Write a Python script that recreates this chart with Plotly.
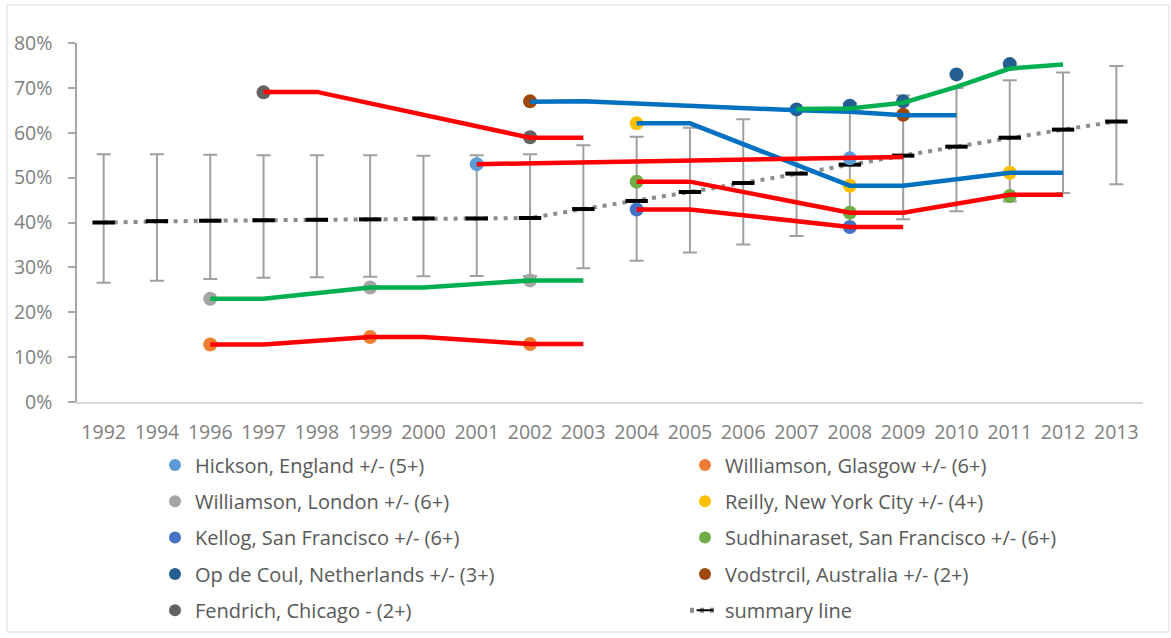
import plotly.graph_objects as go

# ---------------- data ----------------
years = ["1992", "1994", "1996", "1997", "1998", "1999", "2000", "2001", "2002", "2003",
         "2004", "2005", "2006", "2007", "2008", "2009", "2010", "2011", "2012", "2013"]

summary_mean = [40.0, 40.3, 40.4, 40.5, 40.6, 40.7, 40.9, 40.9, 41.0, 43.0,
                44.8, 46.8, 48.8, 50.9, 52.9, 54.9, 56.9, 58.9, 60.7, 62.5]
summary_upper = [55.2, 55.2, 55.1, 55.0, 55.0, 55.0, 54.9, 55.0, 55.2, 57.2,
                 59.1, 61.1, 63.0, 64.9, 66.6, 68.3, 70.0, 71.7, 73.4, 74.9]
summary_lower = [26.6, 27.0, 27.4, 27.7, 27.8, 27.9, 28.0, 28.1, 28.1, 29.8,
                 31.5, 33.3, 35.1, 37.0, 38.9, 40.7, 42.5, 44.7, 46.6, 48.5]

# study point estimates (markers)
hickson_x, hickson_y = ["2001", "2008"], [53.0, 54.3]
glasgow_x, glasgow_y = ["1996", "1999", "2002"], [12.8, 14.5, 12.9]
london_x, london_y = ["1996", "1999", "2002"], [23.0, 25.5, 27.1]
reilly_x, reilly_y = ["2004", "2008", "2011"], [62.1, 48.2, 51.1]
kellog_x, kellog_y = ["2004", "2008"], [42.9, 39.0]
sudhi_x, sudhi_y = ["2004", "2008", "2011"], [49.1, 42.2, 45.9]
opdecoul_x, opdecoul_y = ["2007", "2008", "2009", "2010", "2011"], [65.2, 66.0, 67.0, 73.0, 75.3]
vodstrcil_x, vodstrcil_y = ["2002", "2009"], [67.0, 64.0]
fendrich_x, fendrich_y = ["1997", "2002"], [69.0, 59.0]

# projected trend lines for each study
fendrich_line_x, fendrich_line_y = ["1997", "1998", "2002", "2003"], [69.1, 69.1, 58.9, 58.9]
vodstrcil_line_x, vodstrcil_line_y = ["2002", "2003", "2007", "2008", "2009", "2010"], [66.9, 67.0, 65.0, 64.7, 63.9, 63.9]
opdecoul_line_x, opdecoul_line_y = ["2007", "2008", "2009", "2010", "2011", "2012"], [65.3, 65.4, 66.7, 70.2, 74.3, 75.2]
reilly_line_x, reilly_line_y = ["2004", "2005", "2008", "2009", "2011", "2012"], [62.1, 62.1, 48.2, 48.2, 51.1, 51.1]
hickson_line_x, hickson_line_y = ["2001", "2009"], [53.0, 54.6]
sudhi_line_x, sudhi_line_y = ["2004", "2005", "2008", "2009", "2011", "2012"], [49.1, 49.1, 42.2, 42.2, 46.2, 46.2]
kellog_line_x, kellog_line_y = ["2004", "2005", "2008", "2009"], [42.9, 42.9, 39.0, 39.0]
london_line_x, london_line_y = ["1996", "1997", "1999", "2000", "2002", "2003"], [23.0, 23.0, 25.5, 25.5, 27.1, 27.1]
glasgow_line_x, glasgow_line_y = ["1996", "1997", "1999", "2000", "2002", "2003"], [12.8, 12.8, 14.5, 14.5, 12.9, 12.9]

# ---------------- styling ----------------
FONT = "Open Sans"
W, H = 1171, 638
L, R, T, B = 77, 28, 43, 236
PW, PH = W - L - R, H - T - B
RED, BLUE, GREEN = "#FF0000", "#0070C0", "#00B050"

def px_x(p):
    return (p - L) / PW

def px_y(p):
    return (H - B - p) / PH

def cx(p):
    return p / W

def cy(p):
    return 1 - p / H

fig = go.Figure()

# summary line with CI
err_plus = [u - m for u, m in zip(summary_upper, summary_mean)]
err_minus = [m - l for m, l in zip(summary_mean, summary_lower)]
fig.add_trace(go.Scatter(
    x=years, y=summary_mean, name="summary line", mode="lines+markers",
    line=dict(color="#8C8C8C", width=4, dash="4px,6px"),
    marker=dict(symbol="line-ew", size=16, color="black", line=dict(color="black", width=4)),
    error_y=dict(type="data", array=err_plus, arrayminus=err_minus, symmetric=False,
                 color="#A0A0A0", thickness=2, width=7),
    legend="legend2", legendgroup="g10", legendrank=10,
))

studies = [
    ("Hickson, England +/- (5+)", hickson_x, hickson_y, "#5B9BD5", "legend", 1),
    ("Williamson, Glasgow +/- (6+)", glasgow_x, glasgow_y, "#ED7D31", "legend2", 2),
    ("Williamson, London +/- (6+)", london_x, london_y, "#A5A5A5", "legend", 3),
    ("Reilly, New York City +/- (4+)", reilly_x, reilly_y, "#FFC000", "legend2", 4),
    ("Kellog, San Francisco +/- (6+)", kellog_x, kellog_y, "#4472C4", "legend", 5),
    ("Sudhinaraset, San Francisco +/- (6+)", sudhi_x, sudhi_y, "#70AD47", "legend2", 6),
    ("Op de Coul, Netherlands +/- (3+)", opdecoul_x, opdecoul_y, "#255E91", "legend", 7),
    ("Vodstrcil, Australia +/- (2+)", vodstrcil_x, vodstrcil_y, "#9E480E", "legend2", 8),
    ("Fendrich, Chicago - (2+)", fendrich_x, fendrich_y, "#636363", "legend", 9),
]
for name, xs, ys, col, lg, rank in studies:
    fig.add_trace(go.Scatter(
        x=xs, y=ys, name=name, mode="markers",
        marker=dict(color=col, size=14),
        legend=lg, legendgroup=f"g{rank}", legendrank=rank,
    ))

lines = [
    (fendrich_line_x, fendrich_line_y, RED),
    (vodstrcil_line_x, vodstrcil_line_y, BLUE),
    (opdecoul_line_x, opdecoul_line_y, GREEN),
    (reilly_line_x, reilly_line_y, BLUE),
    (hickson_line_x, hickson_line_y, RED),
    (sudhi_line_x, sudhi_line_y, RED),
    (kellog_line_x, kellog_line_y, RED),
    (london_line_x, london_line_y, GREEN),
    (glasgow_line_x, glasgow_line_y, RED),
]
for xs, ys, col in lines:
    fig.add_trace(go.Scatter(
        x=xs, y=ys, mode="lines", line=dict(color=col, width=4.5),
        showlegend=False, hoverinfo="skip", connectgaps=True,
    ))

legend_common = dict(
    orientation="v", font=dict(family=FONT, size=20, color="#595959"),
    bgcolor="rgba(0,0,0,0)", itemsizing="constant", tracegroupgap=7.3,
    traceorder="grouped", xanchor="left", yanchor="top",
    xref="container", yref="container",
)

fig.update_layout(
    width=W, height=H,
    margin=dict(l=L, r=R, t=T, b=B, autoexpand=False),
    paper_bgcolor="white", plot_bgcolor="white",
    font=dict(family=FONT, color="#7F7F7F"),
    legend=dict(x=cx(155), y=cy(445.5), **legend_common),
    legend2=dict(x=cx(685), y=cy(445.5), **legend_common),
    xaxis=dict(
        type="category", categoryorder="array", categoryarray=years,
        range=[-0.5, len(years) - 0.5],
        showline=True, linecolor="#D9D9D9", linewidth=1.5,
        showgrid=False, zeroline=False, ticks="",
        tickfont=dict(family=FONT, size=19.5, color="#7F7F7F"),
        ticklabelstandoff=12,
    ),
    yaxis=dict(
        range=[0, 80], dtick=10, ticksuffix="%",
        showline=True, linecolor="#A6A6A6", linewidth=1.5,
        ticks="outside", ticklen=7, tickcolor="#A6A6A6", tickwidth=1.5,
        showgrid=False, zeroline=False,
        tickfont=dict(family=FONT, size=19.5, color="#7F7F7F"),
        ticklabelstandoff=12,
    ),
    shapes=[dict(
        type="rect", xref="paper", yref="paper",
        x0=px_x(7), x1=px_x(1169), y0=px_y(632), y1=px_y(5),
        line=dict(color="#D9D9D9", width=1), fillcolor="rgba(0,0,0,0)", layer="below",
    )],
)

fig.write_html("out.html")
